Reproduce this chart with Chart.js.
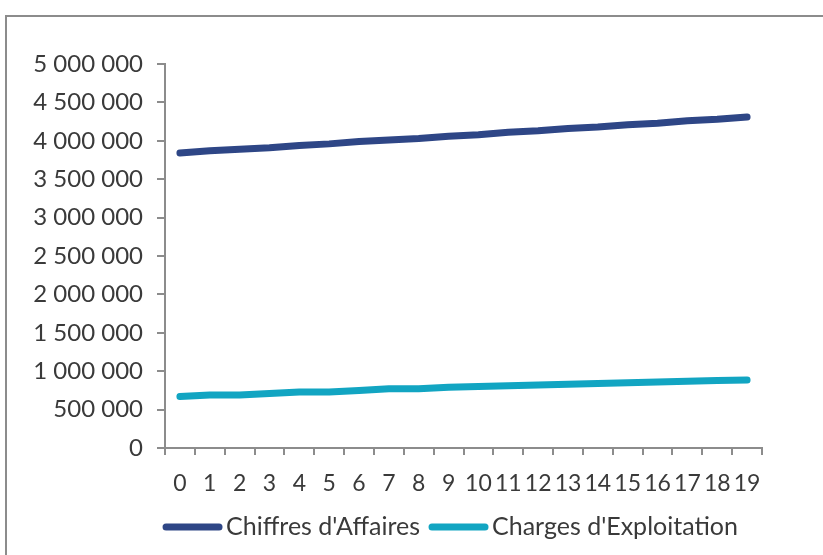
<!DOCTYPE html>
<html>
<head>
<meta charset="utf-8">
<script src="https://cdn.jsdelivr.net/npm/chart.js@4"></script>
<style>
  html, body { margin: 0; padding: 0; background: #fff; }
  body { width: 823px; height: 555px; position: relative; overflow: hidden; }
  #frame { position: absolute; left: 5px; top: 15px; width: 900px; height: 600px;
           border: 2px solid #8c8c8c; box-sizing: border-box; }
  #wrap { position: absolute; left: 0; top: 0; width: 823px; height: 555px; }
</style>
</head>
<body>
<div id="frame"></div>
<div id="wrap"><canvas id="c" width="823" height="555"></canvas></div>
<script>
// Années du plan (0 à 19)
const years = ['0','1','2','3','4','5','6','7','8','9','10','11','12','13','14','15','16','17','18','19'];

// Chiffres d'Affaires par année
const chiffresAffaires = [
  3840000, 3870000, 3890000, 3910000, 3940000, 3960000, 3990000, 4010000, 4030000, 4060000,
  4080000, 4110000, 4130000, 4160000, 4180000, 4210000, 4230000, 4260000, 4280000, 4310000
];

// Charges d'Exploitation par année
const chargesExploitation = [
  670000, 690000, 690000, 710000, 730000, 730000, 750000, 770000, 770000, 790000,
  800000, 810000, 820000, 830000, 840000, 850000, 860000, 870000, 880000, 885000
];

// Graduations de l'axe vertical
const yMin = 0, yMax = 5000000, yStep = 500000;

const axisColor = '#8c8c8c';
const textColor = '#3a3a3a';
const fontFamily = 'Lato, "Open Sans", sans-serif';

function formatFr(v) {
  return String(Math.round(v)).replace(/\B(?=(\d{3})+(?!\d))/g, ' ');
}

// Légende en bas : trait épais à bouts arrondis collé au libellé
const bottomLegend = {
  id: 'bottomLegend',
  afterDraw(chart) {
    const ctx = chart.ctx;
    const lineLen = 53, lineGap = 7, itemGap = 12, centerX = 452, centerY = 527;
    ctx.save();
    ctx.font = '25px ' + fontFamily;
    const items = chart.data.datasets.map(ds => ({
      label: ds.label, color: ds.borderColor, w: ctx.measureText(ds.label).width
    }));
    const total = items.reduce((s, it) => s + lineLen + lineGap + it.w, 0) + itemGap * (items.length - 1);
    let x = centerX - total / 2;
    ctx.textBaseline = 'middle';
    ctx.textAlign = 'left';
    items.forEach(it => {
      ctx.strokeStyle = it.color;
      ctx.lineWidth = 7;
      ctx.lineCap = 'round';
      ctx.beginPath();
      ctx.moveTo(x, centerY);
      ctx.lineTo(x + lineLen, centerY);
      ctx.stroke();
      x += lineLen + lineGap;
      ctx.fillStyle = textColor;
      ctx.fillText(it.label, x, centerY);
      x += it.w + itemGap;
    });
    ctx.restore();
  }
};

new Chart(document.getElementById('c'), {
  type: 'line',
  data: {
    labels: years,
    datasets: [
      {
        label: "Chiffres d'Affaires",
        data: chiffresAffaires,
        borderColor: '#2E4686',
        backgroundColor: '#2E4686',
        borderWidth: 7,
        borderCapStyle: 'round',
        borderJoinStyle: 'round',
        pointRadius: 0,
        tension: 0
      },
      {
        label: "Charges d'Exploitation",
        data: chargesExploitation,
        borderColor: '#12A5C2',
        backgroundColor: '#12A5C2',
        borderWidth: 7,
        borderCapStyle: 'round',
        borderJoinStyle: 'round',
        pointRadius: 0,
        tension: 0
      }
    ]
  },
  plugins: [bottomLegend],
  options: {
    responsive: false,
    animation: false,
    layout: { padding: { left: 0, right: 61, top: 64, bottom: 57 } },
    plugins: {
      tooltip: { enabled: false },
      legend: { display: false }
    },
    scales: {
      x: {
        offset: true,
        afterFit: (s) => { s.height = 50; },
        grid: {
          offset: true,
          drawOnChartArea: false,
          drawTicks: true,
          tickLength: 7,
          color: axisColor,
          lineWidth: 2
        },
        border: { display: true, color: axisColor, width: 2 },
        ticks: {
          autoSkip: false,
          maxRotation: 0,
          minRotation: 0,
          padding: 15,
          color: textColor,
          font: { family: fontFamily, size: 23 }
        }
      },
      y: {
        min: yMin,
        max: yMax,
        afterFit: (s) => { s.width = 165; },
        grid: {
          drawOnChartArea: false,
          drawTicks: true,
          tickLength: 8,
          color: axisColor,
          lineWidth: 2
        },
        border: { display: true, color: axisColor, width: 2 },
        ticks: {
          stepSize: yStep,
          padding: 14,
          color: textColor,
          font: { family: fontFamily, size: 24 },
          callback: (v) => formatFr(v)
        }
      }
    }
  }
});
</script>
</body>
</html>
